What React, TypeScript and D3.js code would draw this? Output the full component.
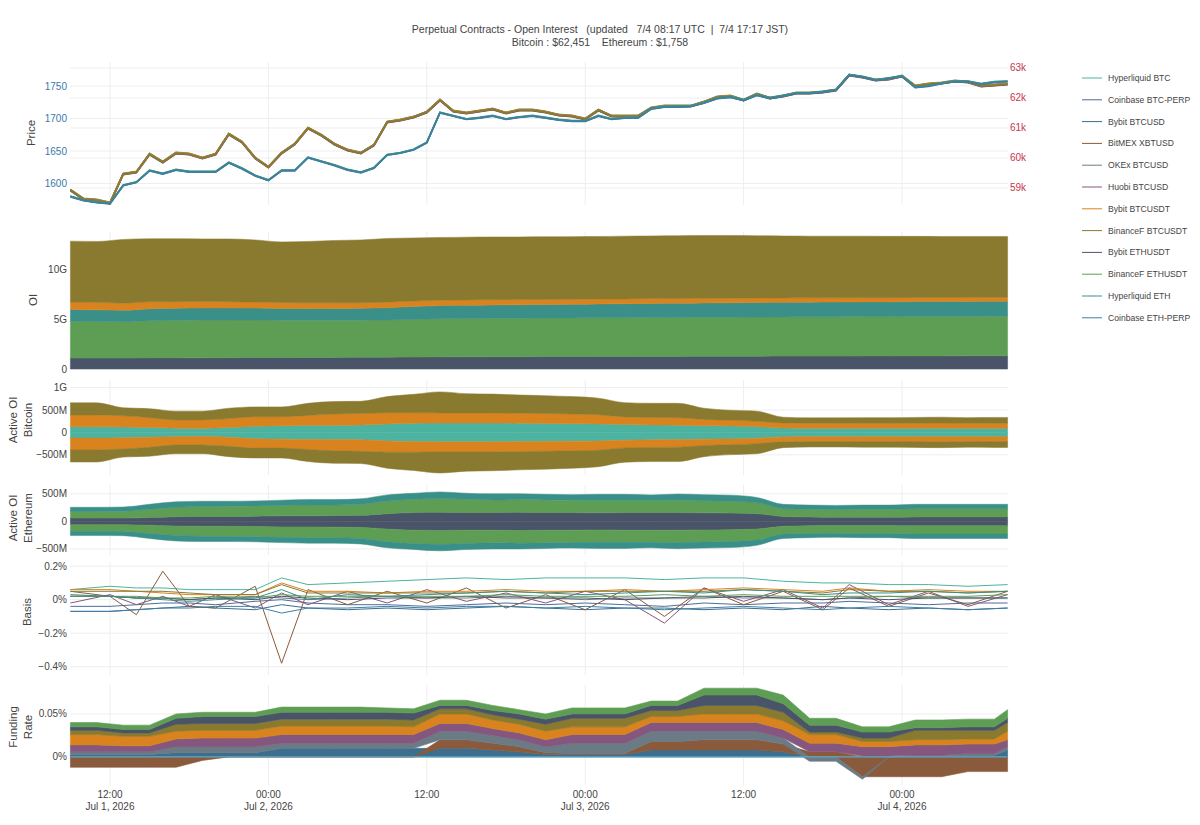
import * as d3 from 'd3';

const W = 1200;
const H = 825;
const FONT = '"Liberation Sans", Arial, sans-serif';

const seriesNames = [
  'Hyperliquid BTC', 'Coinbase BTC-PERP', 'Bybit BTCUSD', 'BitMEX XBTUSD', 'OKEx BTCUSD', 'Huobi BTCUSD',
  'Bybit BTCUSDT', 'BinanceF BTCUSDT', 'Bybit ETHUSDT', 'BinanceF ETHUSDT', 'Hyperliquid ETH', 'Coinbase ETH-PERP',
];
const seriesColors = [
  '#4cb3a0', '#4f6d9a', '#3b6e8f', '#8a5a3c', '#6b7b85', '#85567e',
  '#d9831f', '#8a7a2f', '#4a5468', '#5e9e54', '#3a8f88', '#3d7fa5',
];
const colorOf = (name: string) => seriesColors[seriesNames.indexOf(name)];

// time grids (hours after Jul 1 2026 09:00 UTC)
const startTime = Date.UTC(2026, 6, 1, 9);
const hourMs = 3600 * 1000;
const priceHours = d3.range(72);
const gridHours = [...d3.range(0, 71, 2), 71];
const basisHours = [0, 3, 5, 7, 9, 11, 14, 16, 18, 21, 24, 27, 30, 33, 36, 39, 42, 45, 48, 51, 54, 57, 59, 62, 65, 68, 71];

// prices (USD)
const btcPrice = [
  58933, 58633, 58600, 58500, 59467, 59533, 60133, 59867, 60167, 60133, 60000, 60133, 60800, 60533, 60000, 59700,
  60167, 60467, 61000, 60767, 60467, 60267, 60167, 60433, 61200, 61267, 61367, 61533,
  61933, 61567, 61500, 61567, 61633, 61500, 61600, 61600, 61533, 61433, 61400, 61300, 61600, 61400, 61400, 61400,
  61667, 61733, 61733, 61733, 61867, 62033, 62067, 61933, 62133, 62000, 62067, 62167, 62167, 62200, 62267, 62767,
  62700, 62600, 62633, 62733, 62400, 62467, 62500, 62567, 62533, 62400, 62433, 62467,
];
const ethPrice = [
  1580, 1574, 1571, 1569, 1597, 1602, 1620, 1615, 1621, 1618, 1618, 1618, 1632, 1623, 1612, 1605,
  1620, 1620, 1640, 1634, 1628, 1621, 1617, 1624, 1644, 1647, 1652, 1663,
  1709, 1704, 1699, 1701, 1704, 1699, 1702, 1704, 1701, 1698, 1696, 1696, 1704, 1699, 1701, 1701,
  1715, 1718, 1718, 1719, 1724, 1731, 1733, 1728, 1736, 1731, 1735, 1739, 1739, 1741, 1744, 1767,
  1764, 1759, 1762, 1765, 1748, 1750, 1754, 1757, 1757, 1753, 1756, 1757,
];
// per-exchange price offset from the index (USD), legend order
const priceSpread = [20, 10, -15, -25, -10, 5, 12, 0, 0, 0.4, 0.8, -0.5];

// open interest (G USD), stacked bottom to top
const oiBybitEth = [1.10, 1.10, 1.10, 1.12, 1.12, 1.13, 1.14, 1.15, 1.15, 1.16, 1.17, 1.18, 1.18, 1.20, 1.22, 1.23, 1.24, 1.24, 1.25, 1.25, 1.26, 1.26, 1.27, 1.27, 1.28, 1.28, 1.29, 1.30, 1.30, 1.30, 1.31, 1.31, 1.32, 1.32, 1.33, 1.33, 1.33];
const oiBinanceEth = [3.70, 3.68, 3.66, 3.75, 3.78, 3.80, 3.80, 3.79, 3.77, 3.76, 3.75, 3.74, 3.75, 3.80, 3.85, 3.86, 3.87, 3.88, 3.88, 3.89, 3.90, 3.90, 3.91, 3.92, 3.93, 3.93, 3.94, 3.95, 3.96, 3.96, 3.97, 3.97, 3.98, 3.98, 3.98, 3.99, 3.99];
const oiHyperEth = [1.20, 1.18, 1.15, 1.20, 1.22, 1.22, 1.21, 1.20, 1.18, 1.17, 1.18, 1.20, 1.25, 1.30, 1.32, 1.33, 1.34, 1.35, 1.36, 1.38, 1.40, 1.42, 1.43, 1.44, 1.45, 1.46, 1.46, 1.47, 1.47, 1.48, 1.48, 1.48, 1.49, 1.49, 1.50, 1.50, 1.50];
const oiBybitBtcUsdt = [0.74, 0.76, 0.72, 0.70, 0.66, 0.64, 0.62, 0.60, 0.60, 0.58, 0.58, 0.56, 0.55, 0.55, 0.54, 0.54, 0.53, 0.52, 0.52, 0.50, 0.50, 0.48, 0.48, 0.47, 0.46, 0.45, 0.45, 0.44, 0.44, 0.43, 0.42, 0.42, 0.42, 0.41, 0.41, 0.40, 0.40];
const oiBinanceBtc = [6.14, 6.13, 6.42, 6.35, 6.34, 6.31, 6.33, 6.26, 6.10, 6.18, 6.27, 6.32, 6.42, 6.35, 6.32, 6.32, 6.32, 6.31, 6.31, 6.31, 6.29, 6.32, 6.31, 6.32, 6.33, 6.33, 6.28, 6.24, 6.21, 6.21, 6.20, 6.18, 6.15, 6.15, 6.13, 6.13, 6.13];

// active OI Bitcoin (M USD)
const actHyperBtc = [125, 125, 120, 110, 95, 90, 110, 140, 150, 155, 160, 165, 190, 205, 210, 210, 210, 205, 200, 195, 190, 175, 165, 160, 150, 145, 130, 100, 95, 95, 95, 95, 95, 95, 95, 95, 95];
const actBybitBtcUsdt = [265, 265, 250, 220, 185, 190, 200, 210, 200, 225, 250, 255, 250, 235, 225, 225, 225, 225, 220, 215, 205, 170, 170, 170, 140, 130, 120, 110, 110, 110, 110, 110, 110, 115, 110, 110, 110];
const actBinanceBtc = [270, 270, 180, 200, 195, 195, 230, 220, 220, 270, 280, 275, 360, 410, 470, 430, 420, 405, 400, 390, 370, 320, 315, 320, 250, 220, 225, 130, 120, 120, 125, 125, 130, 130, 125, 130, 130];

// active OI Ethereum (M USD)
const actBybitEth = [60, 60, 60, 70, 85, 90, 90, 95, 100, 100, 105, 110, 140, 160, 165, 160, 160, 165, 160, 160, 155, 160, 160, 160, 155, 150, 140, 90, 80, 75, 75, 75, 80, 80, 80, 80, 80];
const actBinanceEth = [120, 120, 125, 150, 170, 180, 185, 185, 190, 195, 190, 200, 230, 240, 250, 240, 230, 230, 230, 225, 225, 220, 220, 225, 220, 215, 200, 140, 140, 140, 145, 145, 150, 150, 150, 150, 150];
const actHyperEth = [75, 75, 75, 90, 100, 95, 90, 90, 95, 100, 100, 100, 110, 110, 120, 110, 110, 105, 100, 100, 110, 110, 100, 110, 110, 110, 95, 80, 75, 75, 75, 75, 80, 80, 80, 80, 80];

// basis (%), legend order, on basisHours
const basisValues = [
  [0.06, 0.08, 0.07, 0.07, 0.06, 0.06, 0.06, 0.13, 0.09, 0.10, 0.11, 0.12, 0.13, 0.12, 0.13, 0.13, 0.13, 0.12, 0.13, 0.13, 0.11, 0.10, 0.10, 0.09, 0.09, 0.08, 0.09],
  [-0.04, -0.04, -0.03, -0.02, -0.02, -0.03, -0.01, 0.00, -0.02, -0.03, -0.03, -0.04, -0.03, -0.02, -0.03, -0.02, -0.03, -0.04, -0.02, -0.03, -0.02, -0.02, -0.01, -0.02, -0.03, -0.02, -0.02],
  [-0.07, -0.07, -0.06, -0.05, -0.04, -0.05, -0.06, -0.03, -0.05, -0.06, -0.05, -0.06, -0.05, -0.04, -0.05, -0.06, -0.05, -0.05, -0.06, -0.05, -0.06, -0.04, -0.05, -0.06, -0.05, -0.06, -0.05],
  [0.05, 0.02, -0.09, 0.17, -0.04, -0.05, 0.08, -0.38, 0.06, -0.03, 0.05, -0.02, 0.07, -0.05, 0.03, -0.06, 0.06, -0.10, 0.07, -0.03, 0.05, -0.06, 0.07, -0.04, 0.04, -0.03, 0.05],
  [0.02, 0.02, 0.01, 0.01, 0.00, 0.01, 0.02, 0.01, 0.00, 0.01, 0.02, 0.01, 0.01, 0.02, 0.01, 0.00, 0.01, 0.01, 0.02, 0.01, 0.01, 0.00, 0.01, 0.02, 0.01, 0.01, 0.01],
  [-0.02, 0.03, -0.03, 0.02, -0.04, 0.03, -0.05, 0.04, -0.03, 0.05, -0.02, 0.06, -0.01, 0.04, -0.02, 0.05, 0.00, -0.14, 0.07, -0.01, 0.06, -0.05, 0.09, -0.03, 0.05, -0.04, 0.03],
  [0.06, 0.06, 0.05, 0.04, 0.03, 0.03, 0.03, 0.10, 0.05, 0.05, 0.04, 0.05, 0.05, 0.06, 0.05, 0.05, 0.06, 0.05, 0.06, 0.07, 0.06, 0.05, 0.07, 0.05, 0.06, 0.05, 0.05],
  [0.05, 0.05, 0.05, 0.05, 0.04, 0.03, 0.03, 0.09, 0.04, 0.04, 0.04, 0.04, 0.04, 0.05, 0.04, 0.05, 0.05, 0.05, 0.05, 0.06, 0.05, 0.04, 0.06, 0.05, 0.05, 0.04, 0.05],
  [0.02, 0.02, 0.01, 0.01, 0.00, 0.01, 0.00, 0.02, 0.01, 0.00, 0.01, 0.01, 0.02, 0.01, 0.01, 0.01, 0.00, 0.01, 0.01, 0.02, 0.01, 0.00, 0.01, 0.00, 0.01, 0.01, 0.01],
  [0.02, 0.02, 0.02, 0.01, 0.01, 0.02, 0.01, 0.03, 0.02, 0.02, 0.02, 0.02, 0.02, 0.03, 0.02, 0.02, 0.02, 0.03, 0.02, 0.03, 0.02, 0.02, 0.02, 0.02, 0.02, 0.02, 0.03],
  [0.03, 0.02, 0.01, 0.00, -0.01, 0.00, 0.01, 0.06, 0.00, 0.03, 0.02, 0.03, 0.04, 0.05, 0.04, 0.03, 0.04, 0.05, 0.04, 0.06, 0.05, 0.03, 0.04, 0.04, 0.05, 0.04, 0.05],
  [-0.07, -0.07, -0.06, -0.05, -0.05, -0.04, -0.04, -0.08, -0.05, -0.05, -0.04, -0.05, -0.04, -0.04, -0.05, -0.04, -0.05, -0.06, -0.05, -0.04, -0.05, -0.06, -0.05, -0.04, -0.05, -0.06, -0.05],
];

// funding rate (%), on gridHours
const fundBybitBtcUsd = [0.003, 0.003, 0.003, 0.003, 0.005, 0.005, 0.005, 0.005, 0.010, 0.010, 0.010, 0.010, 0.010, 0.010, 0.010, 0.010, 0.008, 0.006, 0.003, 0.003, 0.003, 0.003, 0.008, 0.008, 0.008, 0.008, 0.008, 0.006, 0, 0, 0.001, 0.001, 0.001, 0.001, 0.002, 0.002, 0.008];
const fundBitmex = [-0.012, -0.012, -0.012, -0.012, -0.012, -0.004, 0, 0, 0, 0, 0, 0, 0, 0, 0.010, 0.010, 0.008, 0.006, 0.002, 0.001, 0.001, 0.001, 0.010, 0.010, 0.012, 0.012, 0.012, 0.009, 0.006, 0.006, -0.023, -0.023, -0.023, -0.023, -0.017, -0.017, -0.017];
const fundOkex = [0.003, 0.003, 0.003, 0.003, 0.007, 0.007, 0.007, 0.007, 0.006, 0.006, 0.006, 0.006, 0.006, 0.006, 0.010, 0.010, 0.009, 0.008, 0.007, 0.012, 0.012, 0.012, 0.012, 0.012, 0.010, 0.010, 0.010, 0.007, -0.005, -0.005, -0.003, 0, 0.001, 0.001, 0.002, 0.002, 0.004];
const fundHuobi = [0.008, 0.008, 0.007, 0.007, 0.009, 0.010, 0.010, 0.010, 0.010, 0.010, 0.010, 0.010, 0.010, 0.010, 0.009, 0.009, 0.008, 0.008, 0.008, 0.010, 0.010, 0.010, 0.010, 0.010, 0.010, 0.010, 0.010, 0.010, 0.010, 0.010, 0.011, 0.011, 0.012, 0.012, 0.011, 0.011, 0.008];
const fundBybitBtcUsdt = [0.012, 0.012, 0.011, 0.011, 0.009, 0.009, 0.009, 0.009, 0.010, 0.010, 0.010, 0.010, 0.010, 0.009, 0.011, 0.011, 0.010, 0.010, 0.010, 0.009, 0.009, 0.009, 0.007, 0.007, 0.010, 0.010, 0.010, 0.010, 0.010, 0.010, 0.006, 0.006, 0.006, 0.006, 0.006, 0.006, 0.010];
const fundBinanceBtc = [0.005, 0.005, 0.004, 0.004, 0.008, 0.008, 0.008, 0.008, 0.008, 0.008, 0.008, 0.008, 0.008, 0.008, 0.006, 0.006, 0.006, 0.006, 0.008, 0.010, 0.010, 0.010, 0.007, 0.007, 0.010, 0.010, 0.010, 0.010, 0.003, 0.003, 0.004, 0.004, 0.011, 0.011, 0.010, 0.010, 0.010];
const fundBybitEth = [0.004, 0.004, 0.004, 0.004, 0.007, 0.008, 0.008, 0.008, 0.008, 0.008, 0.008, 0.008, 0.008, 0.008, 0.004, 0.004, 0.005, 0.006, 0.006, 0.005, 0.005, 0.005, 0.006, 0.006, 0.012, 0.012, 0.012, 0.010, 0.008, 0.008, 0.007, 0.007, 0.003, 0.003, 0.004, 0.004, 0.005];
const fundBinanceEth = [0.005, 0.005, 0.005, 0.005, 0.005, 0.005, 0.005, 0.005, 0.006, 0.006, 0.006, 0.006, 0.005, 0.005, 0.006, 0.006, 0.006, 0.005, 0.006, 0.007, 0.007, 0.007, 0.005, 0.005, 0.008, 0.008, 0.008, 0.010, 0.008, 0.008, 0.006, 0.006, 0.009, 0.009, 0.009, 0.009, 0.010];

const t = (h: number) => new Date(startTime + h * hourMs);

type Row = { h: number; [k: string]: number };
const makeRows = (keys: string[], values: number[][], hours: number[]) =>
  hours.map((h, i) => {
    const r: Row = { h };
    keys.forEach((k, j) => { r[k] = values[j][i]; });
    return r;
  });

export default function App() {
  const x = d3.scaleUtc().domain([t(0), t(71)]).range([70.4, 1007.6]);
  const xTicks = x.ticks(d3.utcHour.every(12)!);

  const yEth = d3.scaleLinear().domain([1567, 1787]).range([205, 62]);
  const yBtc = d3.scaleLinear().domain([58433, 63200]).range([205, 62]);
  const yOi = d3.scaleLinear().domain([0, 13.8]).range([369, 232]);
  const yAbtc = d3.scaleLinear().domain([-0.95, 1.17]).range([475, 380]);
  const yAeth = d3.scaleLinear().domain([-0.61, 0.66]).range([555, 485]);
  const yBasis = d3.scaleLinear().domain([-0.45, 0.225]).range([675, 562]);
  const yFund = d3.scaleLinear().domain([-0.0326, 0.0837]).range([785, 685]);

  const panels = [
    { top: 62, bottom: 205 }, { top: 232, bottom: 369 }, { top: 380, bottom: 475 },
    { top: 485, bottom: 555 }, { top: 562, bottom: 675 }, { top: 685, bottom: 785 },
  ];

  // price lines
  const priceLine = (base: number[], off: number, y: d3.ScaleLinear<number, number>) =>
    d3.line<number>().x((_, i) => x(t(priceHours[i]))).y(v => y(v + off))(base) ?? '';

  // OI stack
  const oiKeys = ['Bybit ETHUSDT', 'BinanceF ETHUSDT', 'Hyperliquid ETH', 'Bybit BTCUSDT', 'BinanceF BTCUSDT'];
  const oiStack = d3.stack<Row>().keys(oiKeys)(
    makeRows(oiKeys, [oiBybitEth, oiBinanceEth, oiHyperEth, oiBybitBtcUsdt, oiBinanceBtc], gridHours));
  const oiArea = d3.area<d3.SeriesPoint<Row>>()
    .x(d => x(t(d.data.h))).y0(d => yOi(d[0])).y1(d => yOi(d[1])).curve(d3.curveMonotoneX);

  // active OI (mirrored around zero)
  const abtcKeys = ['Hyperliquid BTC', 'Bybit BTCUSDT', 'BinanceF BTCUSDT'];
  const abtcStack = d3.stack<Row>().keys(abtcKeys)(
    makeRows(abtcKeys, [actHyperBtc, actBybitBtcUsdt, actBinanceBtc].map(a => a.map(v => v / 1000)), gridHours));
  const aethKeys = ['Bybit ETHUSDT', 'BinanceF ETHUSDT', 'Hyperliquid ETH'];
  const aethStack = d3.stack<Row>().keys(aethKeys)(
    makeRows(aethKeys, [actBybitEth, actBinanceEth, actHyperEth].map(a => a.map(v => v / 1000)), gridHours));
  const mirrorArea = (y: d3.ScaleLinear<number, number>, sign: number) =>
    d3.area<d3.SeriesPoint<Row>>()
      .x(d => x(t(d.data.h))).y0(d => y(sign * d[0])).y1(d => y(sign * d[1])).curve(d3.curveMonotoneX);

  // basis lines
  const basisLine = d3.line<number>().x((_, i) => x(t(basisHours[i]))).y(v => yBasis(v));

  // funding stack
  const fundKeys = ['Bybit BTCUSD', 'BitMEX XBTUSD', 'OKEx BTCUSD', 'Huobi BTCUSD', 'Bybit BTCUSDT', 'BinanceF BTCUSDT', 'Bybit ETHUSDT', 'BinanceF ETHUSDT'];
  const fundStack = d3.stack<Row>().keys(fundKeys).offset(d3.stackOffsetDiverging)(
    makeRows(fundKeys, [fundBybitBtcUsd, fundBitmex, fundOkex, fundHuobi, fundBybitBtcUsdt, fundBinanceBtc, fundBybitEth, fundBinanceEth], gridHours));
  const fundArea = d3.area<d3.SeriesPoint<Row>>()
    .x(d => x(t(d.data.h))).y0(d => yFund(d[0])).y1(d => yFund(d[1]));

  const fmtTime = d3.utcFormat('%H:%M');
  const fmtDate = d3.utcFormat('%b %-d, %Y');

  const yAxis = (y: d3.ScaleLinear<number, number>, ticks: number[], fmt: (v: number) => string,
                 side: 'left' | 'right' = 'left', color = '#444') =>
    ticks.map(v => (
      <text key={`${side}${v}`} x={side === 'left' ? 67 : 1010} y={y(v) + 3.5}
        textAnchor={side === 'left' ? 'end' : 'start'} fontSize={10} fill={color}>{fmt(v)}</text>
    ));
  const hGrid = (y: d3.ScaleLinear<number, number>, ticks: number[]) =>
    ticks.map(v => <line key={v} x1={70} x2={1008} y1={y(v)} y2={y(v)} stroke="#eeeeee" />);

  const axisTitle = (lines: string[], cy: number, cx: number) => (
    <text transform={`translate(${cx},${cy}) rotate(-90)`} textAnchor="middle" fontSize={11.5} fill="#444">
      {lines.map((l, i) => (
        <tspan key={l} x={0} dy={i === 0 ? -(lines.length - 1) * 7.5 + 4 : 15}>{l}</tspan>
      ))}
    </text>
  );

  return (
    <svg width={W} height={H} viewBox={`0 0 ${W} ${H}`}
      style={{ position: 'absolute', left: 0, top: 0, background: '#fff', fontFamily: FONT }}>
      <rect width={W} height={H} fill="#fff" />

      {/* title */}
      <text x={600} y={33} textAnchor="middle" fontSize={10.5} fill="#444" style={{ whiteSpace: 'pre' }}>
        {'Perpetual Contracts - Open Interest   (updated   7/4 08:17 UTC  |  7/4 17:17 JST)'}
      </text>
      <text x={600} y={46} textAnchor="middle" fontSize={10.5} fill="#444" style={{ whiteSpace: 'pre' }}>
        {'Bitcoin : $62,451    Ethereum : $1,758'}
      </text>

      {/* vertical grid */}
      {panels.map((p, pi) => xTicks.map(d => (
        <line key={`v${pi}-${+d}`} x1={x(d)} x2={x(d)} y1={p.top} y2={p.bottom} stroke="#eeeeee" />
      )))}

      {/* price panel */}
      {hGrid(yEth, [1600, 1650, 1700, 1750])}
      {hGrid(yBtc, [59000, 60000, 61000, 62000, 63000])}
      {seriesNames.slice(0, 8).map((n, i) => (
        <path key={n} d={priceLine(btcPrice, priceSpread[i], yBtc)} fill="none" stroke={seriesColors[i]} strokeWidth={1.6} />
      ))}
      {seriesNames.slice(8).map((n, i) => (
        <path key={n} d={priceLine(ethPrice, priceSpread[i + 8], yEth)} fill="none" stroke={seriesColors[i + 8]} strokeWidth={1.6} />
      ))}
      {yAxis(yEth, [1600, 1650, 1700, 1750], v => `${v}`, 'left', '#3c78a8')}
      {yAxis(yBtc, [59000, 60000, 61000, 62000, 63000], v => `${v / 1000}k`, 'right', '#c8334f')}
      {axisTitle(['Price'], 133, 31)}

      {/* OI panel */}
      {hGrid(yOi, [0, 5, 10])}
      {oiStack.map(s => (
        <path key={s.key} d={oiArea(s) ?? ''} fill={colorOf(s.key)} stroke={colorOf(s.key)} strokeWidth={0.5} />
      ))}
      {yAxis(yOi, [0, 5, 10], v => (v === 0 ? '0' : `${v}G`))}
      {axisTitle(['OI'], 300, 33)}

      {/* active OI bitcoin */}
      {hGrid(yAbtc, [-0.5, 0, 0.5, 1])}
      {abtcStack.map(s => (
        <g key={s.key}>
          <path d={mirrorArea(yAbtc, 1)(s) ?? ''} fill={colorOf(s.key)} stroke={colorOf(s.key)} strokeWidth={0.5} />
          <path d={mirrorArea(yAbtc, -1)(s) ?? ''} fill={colorOf(s.key)} stroke={colorOf(s.key)} strokeWidth={0.5} />
        </g>
      ))}
      {yAxis(yAbtc, [-0.5, 0, 0.5, 1], v => (v === 0 ? '0' : v === 1 ? '1G' : `${v < 0 ? '−' : ''}500M`))}
      {axisTitle(['Active OI', 'Bitcoin'], 420, 20)}

      {/* active OI ethereum */}
      {hGrid(yAeth, [-0.5, 0, 0.5])}
      {aethStack.map(s => (
        <g key={s.key}>
          <path d={mirrorArea(yAeth, 1)(s) ?? ''} fill={colorOf(s.key)} stroke={colorOf(s.key)} strokeWidth={0.5} />
          <path d={mirrorArea(yAeth, -1)(s) ?? ''} fill={colorOf(s.key)} stroke={colorOf(s.key)} strokeWidth={0.5} />
        </g>
      ))}
      {yAxis(yAeth, [-0.5, 0, 0.5], v => (v === 0 ? '0' : `${v < 0 ? '−' : ''}500M`))}
      {axisTitle(['Active OI', 'Ethereum'], 518, 20)}

      {/* basis */}
      {hGrid(yBasis, [-0.4, -0.2, 0, 0.2])}
      {basisValues.map((vals, i) => (
        <path key={seriesNames[i]} d={basisLine(vals) ?? ''} fill="none" stroke={seriesColors[i]} strokeWidth={1} />
      ))}
      {yAxis(yBasis, [-0.4, -0.2, 0, 0.2], v => (v === 0 ? '0%' : `${v < 0 ? '−' : ''}${Math.abs(v)}%`))}
      {axisTitle(['Basis'], 612, 27)}

      {/* funding rate */}
      {hGrid(yFund, [0, 0.05])}
      {fundStack.map(s => (
        <path key={s.key} d={fundArea(s) ?? ''} fill={colorOf(s.key)} stroke={colorOf(s.key)} strokeWidth={0.6} />
      ))}
      <line x1={70.4} x2={1007.6} y1={yFund(0)} y2={yFund(0)} stroke="#5fa8c8" strokeWidth={1.2} />
      {yAxis(yFund, [0, 0.05], v => `${v}%`)}
      {axisTitle(['Funding', 'Rate'], 727, 20)}

      {/* x axis */}
      {xTicks.map((d, i) => (
        <text key={+d} x={x(d)} y={798} textAnchor="middle" fontSize={10} fill="#444">
          <tspan x={x(d)}>{fmtTime(d)}</tspan>
          {(i === 0 || d.getUTCHours() === 0) && <tspan x={x(d)} dy={11.5}>{fmtDate(d)}</tspan>}
        </text>
      ))}

      {/* legend */}
      {seriesNames.map((n, i) => (
        <g key={n} transform={`translate(1082,${78 + i * 21.8})`}>
          <line x1={0} x2={20} y1={0} y2={0} stroke={seriesColors[i]} strokeWidth={1} />
          <text x={26} y={3} fontSize={8.6} fill="#444">{n}</text>
        </g>
      ))}
    </svg>
  );
}
